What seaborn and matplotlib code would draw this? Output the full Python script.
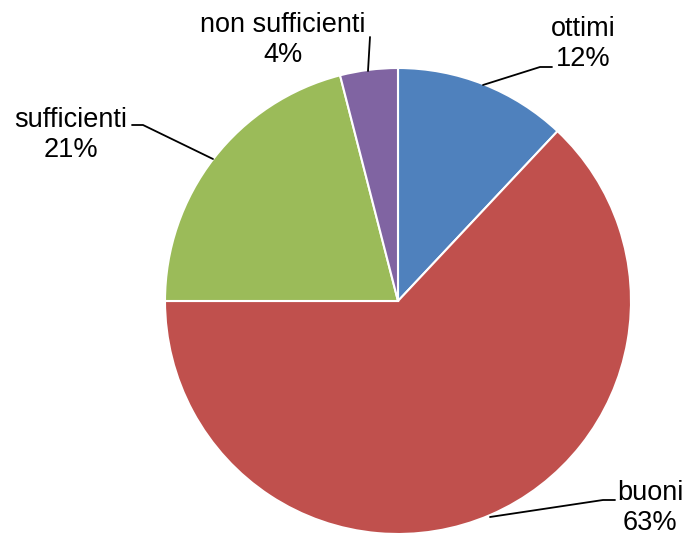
import matplotlib
matplotlib.use("Agg")
import matplotlib.pyplot as plt
import seaborn as sns

# data
categories = ["ottimi", "buoni", "sufficienti", "non sufficienti"]
shares = [12, 63, 21, 4]
colors = ["#4F81BD", "#C0504D", "#9BBB59", "#8064A2"]

sns.set_theme(style="white")
plt.rcParams["font.family"] = ["Liberation Sans", "DejaVu Sans"]

W, H = 689, 535
CX, CY, R = 398, 301, 233


def px(x, y):
    # reference pixel -> pie data coords (radius 1)
    return (x - CX) / R, (CY - y) / R


# label layout: text center and leader polyline, in reference pixels
label_layout = {
    "ottimi": ((583, 44), [(483, 85), (540, 67), (552, 67)]),
    "buoni": ((650, 508), [(490, 517), (603, 500), (615, 500)]),
    "sufficienti": ((71, 135), [(213, 159), (143, 125), (132, 125)]),
    "non sufficienti": ((283, 40), [(368, 71), (370, 37)]),
}

fig = plt.figure(figsize=(W / 100, H / 100), dpi=100)
ax = fig.add_axes([(CX - R) / W, (H - CY - R) / H, 2 * R / W, 2 * R / H])

ax.pie(shares, colors=sns.color_palette(colors), startangle=90, counterclock=False,
       radius=1, wedgeprops=dict(edgecolor="white", linewidth=1.5))
ax.set_xlim(-1, 1)
ax.set_ylim(-1, 1)
ax.set_aspect("equal")
ax.axis("off")

for name, val in zip(categories, shares):
    (tx, ty), line = label_layout[name]
    xs, ys = zip(*[px(x, y) for x, y in line])
    ax.plot(xs, ys, color="black", lw=1.3, clip_on=False)
    x, y = px(tx, ty)
    ax.text(x, y, f"{name}\n{val}%", ha="center", va="center", multialignment="center",
            fontsize=19.5, color="black", linespacing=1.2, clip_on=False)

fig.savefig("out.png", dpi=100)
